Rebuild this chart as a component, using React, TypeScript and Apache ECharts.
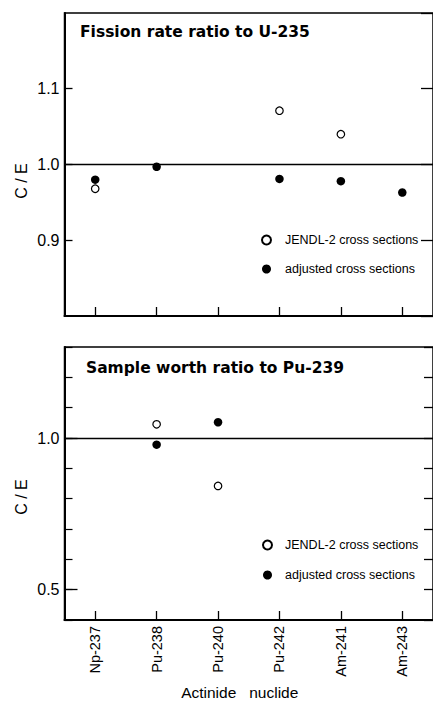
import React, { useEffect, useRef } from "react";
import * as echarts from "echarts";

const nuclides = ["Np-237", "Pu-238", "Pu-240", "Pu-242", "Am-241", "Am-243"];

// Fission rate ratio to U-235 (C/E)
const fissionJendl = [0.968, null, null, 1.071, 1.04, null];
const fissionAdjusted = [0.98, 0.997, null, 0.981, 0.978, 0.963];

// Sample worth ratio to Pu-239 (C/E)
const worthJendl = [null, 1.045, 0.842, null, null, null];
const worthAdjusted = [null, 0.978, 1.052, null, null, null];

const fissionTicks = { min: 0.8, max: 1.2, interval: 0.1 };
const worthTicks = { min: 0.4, max: 1.3, interval: 0.1 };
const worthLabelValues = [0.5, 1.0];

const LEG_JENDL = "JENDL-2 cross sections";
const LEG_ADJ = "adjusted cross sections";

const FONT = "Liberation Sans";
const INK = "#000";

const toData = (arr: (number | null)[]) => arr.map((v) => (v == null ? "-" : v));

export default function App() {
  const ref = useRef<HTMLDivElement>(null);

  useEffect(() => {
    if (!ref.current) return;
    const chart = echarts.init(ref.current, undefined, { renderer: "svg" });

    const refLine = {
      silent: true,
      symbol: "none",
      label: { show: false },
      lineStyle: { color: INK, width: 1.3, type: "solid", opacity: 1 },
      data: [{ yAxis: 1.0 }],
    };

    const openStyle = { color: "#fff", borderColor: INK, borderWidth: 1.2, opacity: 1 };
    const fullStyle = { color: INK, borderColor: INK, borderWidth: 0, opacity: 1 };

    const baseX = (gridIndex: number, showLabels: boolean) => ({
      type: "category",
      gridIndex,
      data: nuclides,
      boundaryGap: true,
      axisLine: { show: true, lineStyle: { color: INK, width: 2 } },
      axisTick: { show: true, inside: true, alignWithLabel: true, length: 9, lineStyle: { color: INK, width: 1.3 } },
      splitLine: { show: false },
      axisLabel: showLabels
        ? { show: true, rotate: 90, margin: 6, color: INK, fontFamily: FONT, fontSize: 14.5 }
        : { show: false },
    });

    const option: any = {
      animation: false,
      backgroundColor: "#fff",
      title: [
        {
          text: "Fission rate ratio to U-235",
          left: 80,
          top: 24,
          padding: 0,
          textStyle: { fontFamily: "DejaVu Sans", fontWeight: "bold", fontSize: 15.5, color: INK },
        },
        {
          text: "Sample worth ratio to Pu-239",
          left: 86,
          top: 360,
          padding: 0,
          textStyle: { fontFamily: "DejaVu Sans", fontWeight: "bold", fontSize: 15.5, color: INK },
        },
      ],
      legend: [
        {
          orient: "vertical",
          left: 261,
          top: 233,
          padding: 0,
          itemWidth: 9,
          itemHeight: 9,
          itemGap: 15,
          selectedMode: false,
          data: [LEG_JENDL, LEG_ADJ],
          textStyle: { fontFamily: FONT, fontSize: 12.5, color: INK, lineHeight: 14, padding: [0, 0, 0, 9] },
        },
        {
          orient: "vertical",
          left: 262,
          top: 538,
          padding: 0,
          itemWidth: 9,
          itemHeight: 9,
          itemGap: 16,
          selectedMode: false,
          data: [LEG_JENDL, LEG_ADJ],
          textStyle: { fontFamily: FONT, fontSize: 12.5, color: INK, lineHeight: 14, padding: [0, 0, 0, 8] },
        },
      ],
      grid: [
        { left: 64.5, top: 13, width: 372, height: 303, show: true, borderColor: INK, borderWidth: 1.5, backgroundColor: "transparent" },
        { left: 64.5, top: 347, width: 372, height: 274, show: true, borderColor: INK, borderWidth: 1.5, backgroundColor: "transparent" },
      ],
      xAxis: [
        baseX(0, false),
        {
          ...baseX(1, true),
          name: "Actinide   nuclide",
          nameLocation: "middle",
          nameGap: 63,
          nameTextStyle: { fontFamily: FONT, fontSize: 15.5, color: INK, lineHeight: 18, padding: [0, 18, 0, 0] },
        },
      ],
      yAxis: [
        {
          type: "value",
          gridIndex: 0,
          position: "left",
          ...fissionTicks,
          axisLine: { show: true, lineStyle: { color: INK, width: 2 } },
          axisTick: { show: true, inside: true, length: 8, lineStyle: { color: INK, width: 1.3 } },
          splitLine: { show: false },
          axisLabel: {
            showMinLabel: false,
            showMaxLabel: false,
            margin: 5,
            color: INK,
            fontFamily: FONT,
            fontSize: 16,
            formatter: (v: number) => v.toFixed(1),
          },
        },
        {
          type: "value",
          gridIndex: 0,
          position: "right",
          ...fissionTicks,
          axisLine: { show: false },
          axisTick: { show: true, inside: true, length: 12, lineStyle: { color: INK, width: 1.3 } },
          splitLine: { show: false },
          axisLabel: { show: false },
        },
        {
          type: "value",
          gridIndex: 1,
          position: "left",
          ...worthTicks,
          axisLine: { show: true, lineStyle: { color: INK, width: 2 } },
          axisTick: { show: true, inside: true, length: 8, lineStyle: { color: INK, width: 1.2 } },
          splitLine: { show: false },
          axisLabel: { show: false },
        },
        {
          type: "value",
          gridIndex: 1,
          position: "left",
          offset: 0,
          ...worthTicks,
          axisLine: { show: false },
          axisTick: { show: true, inside: true, length: 13, customValues: worthLabelValues, lineStyle: { color: INK, width: 1.3 } },
          splitLine: { show: false },
          axisLabel: {
            customValues: worthLabelValues,
            margin: 5,
            color: INK,
            fontFamily: FONT,
            fontSize: 16,
            formatter: (v: number) => v.toFixed(1),
          },
        },
        {
          type: "value",
          gridIndex: 1,
          position: "right",
          ...worthTicks,
          axisLine: { show: false },
          axisTick: { show: true, inside: true, length: 9, lineStyle: { color: INK, width: 1.3 } },
          splitLine: { show: false },
          axisLabel: { show: false },
        },
      ],
      graphic: [
        {
          type: "text",
          x: 21,
          y: 181,
          rotation: Math.PI / 2,
          style: { text: "C / E", fontFamily: FONT, fontSize: 16, fill: INK, align: "center", verticalAlign: "middle" },
        },
        {
          type: "text",
          x: 21,
          y: 497,
          rotation: Math.PI / 2,
          style: { text: "C / E", fontFamily: FONT, fontSize: 16, fill: INK, align: "center", verticalAlign: "middle" },
        },
      ],
      series: [
        {
          name: LEG_JENDL,
          type: "scatter",
          xAxisIndex: 0,
          yAxisIndex: 0,
          symbol: "circle",
          symbolSize: 7.5,
          itemStyle: openStyle,
          data: toData(fissionJendl),
          markLine: refLine,
          z: 3,
        },
        {
          name: LEG_ADJ,
          type: "scatter",
          xAxisIndex: 0,
          yAxisIndex: 0,
          symbol: "circle",
          symbolSize: 8.5,
          itemStyle: fullStyle,
          data: toData(fissionAdjusted),
          z: 4,
        },
        {
          name: LEG_JENDL,
          type: "scatter",
          xAxisIndex: 1,
          yAxisIndex: 2,
          symbol: "circle",
          symbolSize: 7.5,
          itemStyle: openStyle,
          data: toData(worthJendl),
          markLine: refLine,
          z: 3,
        },
        {
          name: LEG_ADJ,
          type: "scatter",
          xAxisIndex: 1,
          yAxisIndex: 2,
          symbol: "circle",
          symbolSize: 8.5,
          itemStyle: fullStyle,
          data: toData(worthAdjusted),
          z: 4,
        },
      ],
    };

    chart.setOption(option);
    return () => chart.dispose();
  }, []);

  return (
    <div
      ref={ref}
      style={{ position: "fixed", left: 0, top: 0, width: 433, height: 702, background: "#fff" }}
    />
  );
}
